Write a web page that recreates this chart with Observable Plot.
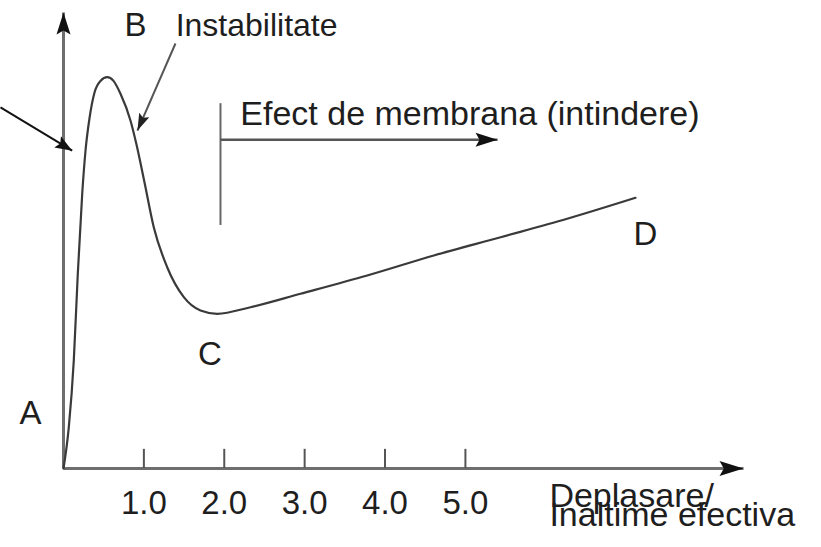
<!DOCTYPE html>
<html>
<head>
<meta charset="utf-8">
<script src="https://cdn.jsdelivr.net/npm/d3@7"></script>
<script src="https://cdn.jsdelivr.net/npm/@observablehq/plot@0.6"></script>
<style>
  html, body { margin: 0; padding: 0; background: #fff; }
  #chart svg { display: block; }
</style>
</head>
<body>
<div id="chart"></div>
<script>
// ---- data (schematic load–displacement curve) ----
const curveX = [0, 0.066, 0.128, 0.178, 0.233, 0.274, 0.323, 0.386, 0.460, 0.544, 0.622, 0.709, 0.833, 0.908, 1.008, 1.123, 1.290, 1.497, 1.704, 1.912, 2.326, 2.948, 3.778, 4.607, 5.438, 6.266, 7.116];
const curveY = [0, 0.906, 2.368, 4.276, 6.031, 6.974, 7.675, 8.246, 8.500, 8.581, 8.500, 8.217, 7.632, 7.105, 6.272, 5.292, 4.414, 3.757, 3.465, 3.393, 3.537, 3.831, 4.232, 4.671, 5.072, 5.476, 5.936];
const tickValues = [1, 2, 3, 4, 5];
const tickLabels = ["1.0", "2.0", "3.0", "4.0", "5.0"];
const pointLabels = ["A", "B", "C", "D"];
const instabilityLabel = "Instabilitate";
const membraneLabel = "Efect de membrana (intindere)";
const xTitle = "Deplasare/\nInaltime efectiva";

const curve = curveX.map((x, i) => ({x, y: curveY[i]}));

// ---- layout ----
const W = 821, H = 547;
const mL = 63, mR = 0, mT = 12, mB = 79;
const xDomain = [0, 9.43], yDomain = [0, 10];
const kx = (W - mL - mR) / (xDomain[1] - xDomain[0]);
const ky = (H - mT - mB) / (yDomain[1] - yDomain[0]);
const angle = (x1, y1, x2, y2) => Math.atan2(-(y2 - y1) * ky, (x2 - x1) * kx);

// filled arrowhead symbol with its tip at the anchor point
function head(theta, L, Wd, notch = 0.18) {
  const c = Math.cos(theta), s = Math.sin(theta);
  const pt = (a, b) => [a * c - b * s, a * s + b * c];
  return {
    draw(ctx) {
      const p1 = pt(-L, Wd / 2), p2 = pt(-L * (1 - notch), 0), p3 = pt(-L, -Wd / 2);
      ctx.moveTo(0, 0);
      ctx.lineTo(p1[0], p1[1]);
      ctx.lineTo(p2[0], p2[1]);
      ctx.lineTo(p3[0], p3[1]);
      ctx.closePath();
    }
  };
}

function arrow(x1, y1, x2, y2, stroke, sw, L, Wd, fill) {
  return [
    Plot.link([0], {x1: [x1], y1: [y1], x2: [x2], y2: [y2], stroke, strokeWidth: sw}),
    Plot.dot([0], {x: [x2], y: [y2], symbol: head(angle(x1, y1, x2, y2), L, Wd), fill: fill || stroke, stroke: "none"})
  ];
}

const axisColor = "#6e6e6e";
const xEnd = 8.46;

const chart = Plot.plot({
  width: W, height: H,
  marginLeft: mL, marginRight: mR, marginTop: mT, marginBottom: mB,
  x: {domain: xDomain, axis: null},
  y: {domain: yDomain, axis: null},
  style: {fontFamily: "'Liberation Sans', Arial, sans-serif", fontSize: "33px", background: "#fff", color: "#1e1e1e", overflow: "visible"},
  marks: [
    // axes with arrowheads
    ...arrow(0, 0, 0, 10, axisColor, 3, 22, 14, "#111"),
    ...arrow(0, 0, xEnd, 0, axisColor, 3, 24, 15, "#111"),
    // tick marks and labels
    Plot.ruleX(tickValues, {x: d => d, y1: 0, y2: 0.42, stroke: "#555", strokeWidth: 2}),
    Plot.axisX({ticks: tickValues, tickFormat: (d) => tickLabels[tickValues.indexOf(d)], tickSize: 0, tickPadding: 22, label: null, fontSize: 33}),
    // curve
    Plot.line(curve, {x: "x", y: "y", curve: "monotone-x", stroke: "#3a3a3a", strokeWidth: 2.2}),
    // annotation arrows
    ...arrow(-0.784, 7.92, 0.108, 6.97, "#111", 2, 17, 13),
    ...arrow(1.393, 9.32, 0.920, 7.41, "#555", 2, 17, 11, "#222"),
    Plot.ruleX([1.953], {x: d => d, y1: 5.33, y2: 8.0, stroke: "#666", strokeWidth: 2}),
    ...arrow(1.953, 7.21, 5.40, 7.21, "#555", 2.5, 22, 14, "#111"),
    // labels
    Plot.text([pointLabels[0]], {x: [-0.41], y: [1.21], text: d => d, fontSize: 33}),
    Plot.text([pointLabels[1]], {x: [0.896], y: [9.71], text: d => d, fontSize: 33}),
    Plot.text([pointLabels[2]], {x: [1.823], y: [2.50], text: d => d, fontSize: 33}),
    Plot.text([pointLabels[3]], {x: [7.24], y: [5.13], text: d => d, fontSize: 33}),
    Plot.text([instabilityLabel], {x: [1.395], y: [9.71], text: d => d, textAnchor: "start", fontSize: 32}),
    Plot.text([membraneLabel], {x: [2.20], y: [7.78], text: d => d, textAnchor: "start", fontSize: 34}),
    Plot.text([xTitle], {x: [6.045], y: [0], text: d => d, textAnchor: "start", lineAnchor: "top", dy: 24, lineHeight: 0.58, fontSize: 34})
  ]
});

document.getElementById("chart").appendChild(chart);
</script>
</body>
</html>
